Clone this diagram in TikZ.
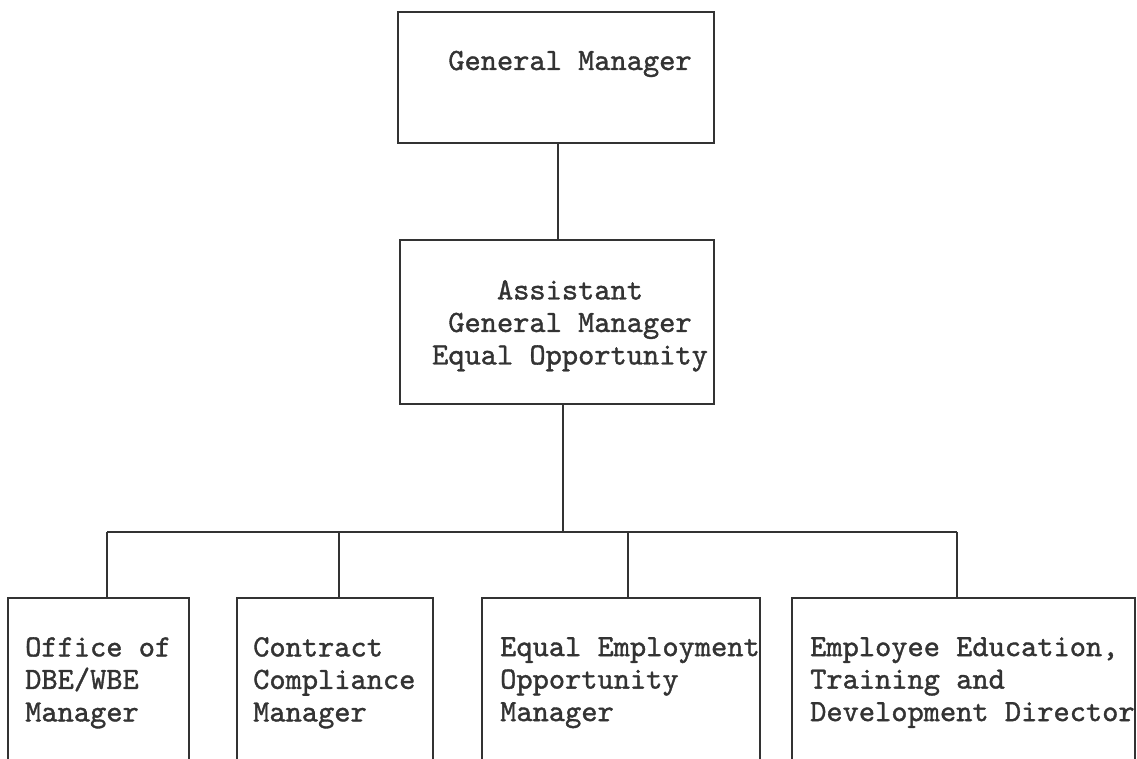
\documentclass[tikz,border=0pt]{standalone}
\usepackage{fontspec}
\newfontfamily\typewriter{lmmono10-regular}[Extension=.otf, FakeBold=1.2]
\usepackage{tikz}
\usepackage{xcolor}
\definecolor{ink}{HTML}{333333}

\begin{document}
\begin{tikzpicture}[
    x=1pt, y=1pt,
    box/.style={rectangle, draw=ink, line width=2.4pt, inner sep=0pt},
    txt/.style={inner sep=0pt, text=ink, font=\typewriter\fontsize{30.9}{32.5}\selectfont},
    link/.style={draw=ink, line width=1.8pt}
]
    \useasboundingbox (0,0) rectangle (1137,759);
    \clip (0,0) rectangle (1137,759);
    % boxes
    \node[box, minimum width=316pt, minimum height=131pt] (gm) at (556,681.5) {};
    \node[box, minimum width=314pt, minimum height=164pt] (agm) at (557,437) {};
    \node[box, minimum width=181pt, minimum height=200pt] (dbe) at (98.5,61) {};
    \node[box, minimum width=196pt, minimum height=200pt] (ccm) at (335,61) {};
    \node[box, minimum width=278pt, minimum height=200pt] (eeo) at (621,61) {};
    \node[box, minimum width=343pt, minimum height=200pt] (etd) at (963.5,61) {};
    % texts
    \node[txt, anchor=base] (gmtext) at (570,689) {General Manager};
    \node[txt, anchor=north, align=center] (agmtext) at (570,479) {Assistant\\General Manager\\Equal Opportunity};
    \node[txt, anchor=north west, align=left] (dbetext) at (25,122) {Office of\\DBE/WBE\\Manager};
    \node[txt, anchor=north west, align=left] (ccmtext) at (253,122) {Contract\\Compliance\\Manager};
    \node[txt, anchor=north west, align=left] (eeotext) at (500,122) {Equal Employment\\Opportunity\\Manager};
    \node[txt, anchor=north west, align=left] (etdtext) at (810,122) {Employee Education,\\Training and\\Development Director};
    % connectors
    \coordinate (bus) at (563,227);
    \coordinate (p1) at (107,227);
    \coordinate (p2) at (339,227);
    \coordinate (p3) at (628,227);
    \coordinate (p4) at (957,227);
    \draw[link] (gm.south -| 558,0) -- (agm.north -| 558,0);
    \draw[link] (bus |- agm.south) -- (bus);
    \draw[link] (p1) -- (p4);
    \foreach \src/\dst in {p1/dbe, p2/ccm, p3/eeo, p4/etd}
        \draw[link] (\src) -- (\src |- \dst.north);
\end{tikzpicture}
\end{document}
